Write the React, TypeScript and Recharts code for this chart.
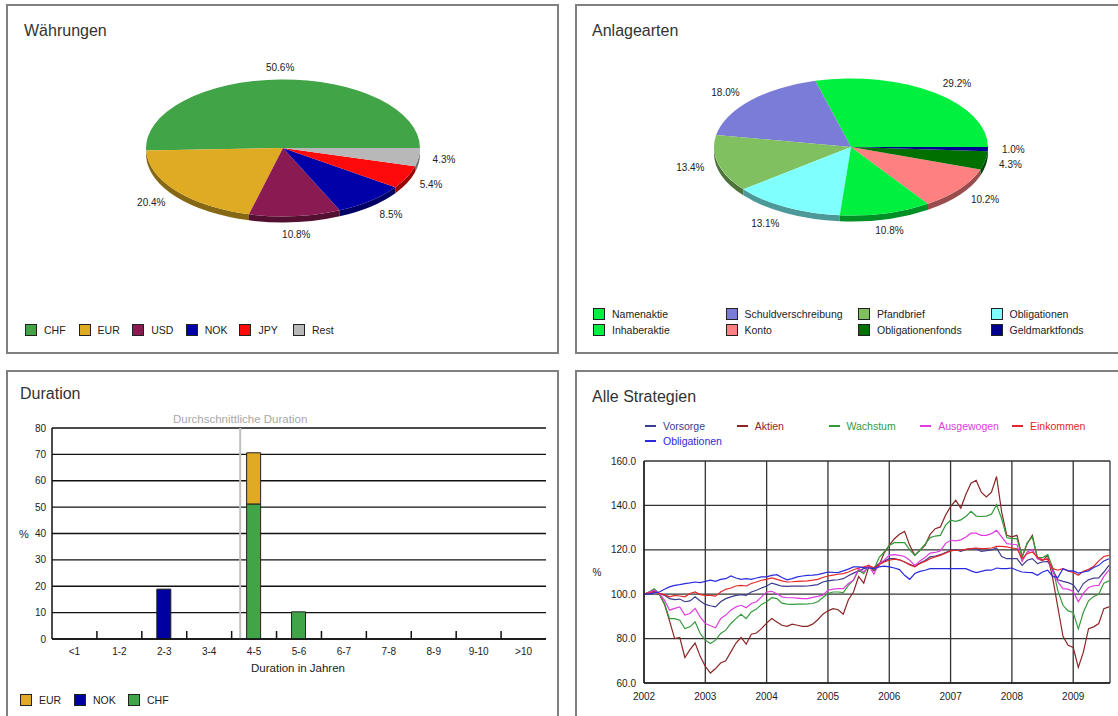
import { PieChart, Pie, BarChart, Bar, XAxis, YAxis, CartesianGrid, ReferenceLine, LineChart, Line } from 'recharts'

const FONT = '"Liberation Sans", Arial, Helvetica, sans-serif'

// Währungen
const currencyNames = ['CHF', 'EUR', 'USD', 'NOK', 'JPY', 'Rest']
const currencyShares = [50.6, 20.4, 10.8, 8.5, 5.4, 4.3]
const currencyColors = ['#41a447', '#dfab22', '#8a1a52', '#0000a8', '#ff0a0a', '#b8b8b8']

// Anlagearten (pie order, legend fills two rows of four)
const assetNames = ['Namenaktie', 'Schuldverschreibung', 'Pfandbrief', 'Obligationen', 'Inhaberaktie', 'Konto', 'Obligationenfonds', 'Geldmarktfonds']
const assetShares = [29.2, 18.0, 13.4, 13.1, 10.8, 10.2, 4.3, 1.0]
const assetColors = ['#00f040', '#7b7bd8', '#80c060', '#80ffff', '#00f040', '#ff8080', '#007000', '#000090']

// Duration
const durationBuckets = ['<1', '1-2', '2-3', '3-4', '4-5', '5-6', '6-7', '7-8', '8-9', '9-10', '>10']
const durationCHF = [0, 0, 0, 0, 51.2, 10.3, 0, 0, 0, 0, 0]
const durationEUR = [0, 0, 0, 0, 19.4, 0, 0, 0, 0, 0, 0]
const durationNOK = [0, 0, 18.9, 0, 0, 0, 0, 0, 0, 0, 0]
const durationTicks = [0, 10, 20, 30, 40, 50, 60, 70, 80]
const averageDuration = 4.19

// Alle Strategien, monthly from Jan 2002
const yearTicks = [2002, 2003, 2004, 2005, 2006, 2007, 2008, 2009]
const strategyTicks = [60, 80, 100, 120, 140, 160]
const vorsorge = [
  100, 100.6, 101.3, 100.3, 99.5, 98, 97.6, 97.8, 96.6, 97, 98.8, 96.9,
  95.4, 94.8, 94.3, 96.6, 98, 98.8, 99.5, 99.8, 99.5, 101, 101.8, 102.8,
  103.7, 105, 104.3, 103.6, 103.5, 103.6, 103.7, 103.6, 103.7, 104, 104.3, 105.5,
  106, 106.3, 106.5, 107, 108.3, 109.5, 110.5, 111.5, 112.3, 112, 113.8, 114.8,
  116, 116, 115.5, 114.5, 113.5, 112.6, 114, 115.2, 116.8, 117.2, 117.8, 118.8,
  119.6, 120, 119.3, 120.2, 120.4, 120.5, 119.3, 119.6, 120, 120.8, 117, 116,
  116, 116, 113, 115.3, 116, 113.8, 114.5, 114.8, 111, 106.5, 105.8, 105.2,
  104.3, 101, 104.8, 106.5, 107.2, 107.3, 110, 113,
]
const aktien = [
  100, 101, 102, 100, 95.5, 88, 80, 80.5, 71.5, 75, 78, 72,
  67.5, 64.5, 66.5, 69, 70, 74, 78, 80.5, 77.5, 82, 82.5, 84.5,
  87, 89, 87.5, 86, 85.5, 86.5, 86, 85.5, 85.5, 86.5, 88.5, 91,
  92.5, 93.5, 93, 91, 97.5, 101, 108, 105, 112.5, 110.5, 113, 118.5,
  122, 125, 127, 128.3, 122, 117.5, 119.8, 122, 127, 129.5, 130.3, 135.5,
  139.5, 142.3, 138.8, 145, 150, 151.3, 146, 143.8, 146, 153, 137, 126.5,
  125.8, 126.5, 116.8, 122.8, 126.5, 116, 115, 117.5, 107, 94, 81, 77,
  76, 67, 74, 84.5, 85.3, 86.8, 93.5, 94.3,
]
const wachstum = [
  100, 101, 102.5, 100.3, 95.8, 89, 89, 88.3, 84.5, 85.3, 87.6, 82.3,
  79.3, 77.8, 79.3, 82.3, 83.8, 86.8, 89, 90.9, 89, 92, 93.3, 95.4,
  96.6, 98.4, 98, 96, 95.5, 95.4, 95.5, 95.5, 95.6, 95.8, 96.6, 98.5,
  100.3, 101, 101, 100.7, 104, 106.3, 110.8, 109.3, 113, 111, 116.5, 119,
  122, 123.2, 123.2, 123.2, 120, 117.5, 119.8, 122.5, 125.5, 126.2, 126.5, 131,
  133.3, 132.8, 133.5, 135, 137.3, 135.2, 135, 135.2, 136, 140.3, 134, 125.5,
  125, 125, 116.8, 123.2, 125.8, 116.5, 116.5, 117.8, 112, 101.5, 95, 92.5,
  91.8, 84.3, 92, 97, 99, 100, 105, 106,
]
const ausgewogen = [
  100, 100.8, 101.8, 100.3, 97.3, 92.8, 93.6, 94.3, 90.6, 91.3, 93.6, 89.8,
  86.8, 85.8, 84.9, 89, 90.6, 92.8, 94.3, 95, 93.9, 95.8, 96.6, 98.8,
  101, 101.3, 100.2, 98.8, 98.4, 98.4, 98.2, 98, 98, 98.6, 99, 99.6,
  101.8, 102.3, 102.5, 102.5, 104.8, 106.3, 111.5, 110, 113, 109, 113.8, 115.3,
  117.5, 117.8, 117.5, 117, 115.3, 113, 115, 116.5, 118.5, 118.8, 119.5, 122.8,
  124.3, 124, 124.5, 125.8, 127.5, 127.5, 126.5, 126.5, 127.3, 128.8, 125.8, 122.8,
  122.5, 122.3, 114.8, 119, 120.1, 116, 115.5, 116, 110, 105.5, 102.5, 102.3,
  101.2, 96.6, 100.5, 103, 103.8, 104, 108, 111,
]
const einkommen = [
  100, 100.5, 101, 100.3, 99.8, 98.8, 99.5, 99.2, 98.8, 100.3, 101, 99.8,
  99.5, 99.5, 99.1, 101, 102.2, 102.8, 103.7, 104, 103.7, 104.8, 105.5, 106.3,
  106.7, 107.3, 106.7, 106, 105.5, 105.6, 105.8, 105.9, 106, 106.3, 106.7, 107.5,
  108.2, 108.6, 109, 109.3, 110, 111, 111.8, 112.3, 113, 111.8, 113.3, 114.5,
  115.3, 115.8, 115.5, 114.5, 113.2, 112.3, 113.8, 114.8, 116, 116.8, 117.5, 118.5,
  119.5, 119.8, 119.8, 120.2, 120.5, 120.8, 120.5, 120.6, 120.8, 121.5, 121.5, 121.3,
  120.8, 120.5, 116, 118.3, 119, 116.8, 115.5, 115.8, 111.5, 110.8, 111.5, 110.5,
  109.8, 108.5, 110.3, 111.2, 112.5, 115, 117, 117.5,
]
const obligationen = [
  100, 100, 100.6, 101, 102.2, 103.3, 104, 104.3, 104.8, 105.1, 105.5, 105.2,
  105.8, 106.3, 105.8, 106.7, 107, 108.2, 107.3, 106.7, 107, 106.7, 107.3, 107.8,
  107.8, 108.5, 108.8, 107.5, 106.5, 107, 107.8, 108.2, 108.5, 108.6, 108.8, 109.4,
  110, 109.8, 109.7, 110.5, 111.3, 112.3, 112.3, 112, 111.8, 111.5, 112.3, 112.6,
  112.3, 111.8, 111.1, 108.5, 106.7, 109.3, 110.3, 110.8, 111.5, 111.5, 111.5, 111.5,
  111.5, 111.5, 111.5, 111.5, 110.5, 109.7, 110.3, 110.8, 110.8, 111.8, 111.5, 111.5,
  111.8, 110.8, 110, 109.8, 109.7, 108.5, 110, 110.8, 108, 107.5, 111.5, 110.5,
  110.5, 109.5, 110, 110.5, 112, 113, 115, 116,
]

const strategies = [
  { key: 'vorsorge', name: 'Vorsorge', values: vorsorge, color: '#3c3c8e' },
  { key: 'aktien', name: 'Aktien', values: aktien, color: '#8b2626' },
  { key: 'wachstum', name: 'Wachstum', values: wachstum, color: '#339a3a' },
  { key: 'ausgewogen', name: 'Ausgewogen', values: ausgewogen, color: '#e03ce0' },
  { key: 'einkommen', name: 'Einkommen', values: einkommen, color: '#e52626' },
  { key: 'obligationen', name: 'Obligationen', values: obligationen, color: '#2a2ae0' },
]

const strategyRows = vorsorge.map((_, i) => {
  const row: Record<string, number> = { t: 2002 + i / 12 }
  strategies.forEach((s) => { row[s.key] = s.values[i] })
  return row
})

// upper = upper bound of the bucket in years, feeds the numeric duration axis
const durationRows = durationBuckets.map((bucket, i) => ({
  bucket,
  upper: i + 1,
  CHF: durationCHF[i],
  EUR: durationEUR[i],
  NOK: durationNOK[i],
}))

// pies are drawn as flattened ovals with a darker rim in front
const SQUASH = 0.5
const DEPTH = 6
const RAD = Math.PI / 180

function shade(hex: string, f: number) {
  const n = parseInt(hex.slice(1), 16)
  const r = Math.round(((n >> 16) & 255) * f)
  const g = Math.round(((n >> 8) & 255) * f)
  const b = Math.round((n & 255) * f)
  return `rgb(${r},${g},${b})`
}

function ovalSlice(colors: string[]) {
  return (p: any) => {
    const { cx, cy, startAngle, endAngle, outerRadius, index, value } = p
    const rx = outerRadius
    const ry = outerRadius * SQUASH
    const at = (a: number, dy = 0) =>
      `${cx + rx * Math.cos(a * RAD)},${cy - ry * Math.sin(a * RAD) + dy}`
    const span = endAngle - startAngle
    const top = `M${cx},${cy} L${at(startAngle)} A${rx},${ry} 0 ${span > 180 ? 1 : 0} 0 ${at(endAngle)} Z`
    const a1 = Math.max(startAngle, 180)
    const a2 = Math.min(endAngle, 360)
    const side = a2 > a1
      ? `M${at(a1)} A${rx},${ry} 0 0 0 ${at(a2)} L${at(a2, DEPTH)} A${rx},${ry} 0 0 1 ${at(a1, DEPTH)} Z`
      : null
    const mid = (startAngle + endAngle) / 2
    const c = Math.cos(mid * RAD)
    const s = Math.sin(mid * RAD)
    const lx = cx + (rx + 14) * c
    const ly = cy - (ry + 12) * s + DEPTH * Math.max(0, -s)
    const anchor = c > 0.3 ? 'start' : c < -0.3 ? 'end' : 'middle'
    return (
      <g key={`slice-${index}`}>
        {side && <path d={side} fill={shade(colors[index], 0.6)} stroke="none" />}
        <path d={top} fill={colors[index]} stroke="none" />
        <text x={lx} y={ly} textAnchor={anchor} dominantBaseline="central" fontSize={10} fill="#222" fontFamily={FONT}>
          {`${value.toFixed(1)}%`}
        </text>
      </g>
    )
  }
}

function OvalPie({ names, shares, colors, cx, cy }: { names: string[]; shares: number[]; colors: string[]; cx: number; cy: number }) {
  const data = names.map((name, i) => ({ name, value: shares[i] }))
  return (
    <PieChart width={550} height={250} margin={{ top: 0, right: 0, bottom: 0, left: 0 }}>
      <Pie
        data={data}
        dataKey="value"
        cx={cx}
        cy={cy}
        outerRadius={137}
        startAngle={0}
        endAngle={360}
        fill="none"
        stroke="none"
        labelLine={false}
        label={ovalSlice(colors)}
        isAnimationActive={false}
      />
    </PieChart>
  )
}

function Panel({ left, top, width, height }: { left: number; top: number; width: number; height: number }) {
  return (
    <div style={{ position: 'absolute', left, top, width, height, boxSizing: 'border-box', border: '2px solid #808080' }} />
  )
}

function Title({ left, top, children }: { left: number; top: number; children: string }) {
  return (
    <div style={{ position: 'absolute', left, top, fontSize: 16, lineHeight: '16px', color: '#333' }}>{children}</div>
  )
}

function Centered({ x, y, size, children }: { x: number; y: number; size: number; children: string }) {
  return (
    <div style={{ position: 'absolute', left: x, top: y, transform: 'translate(-50%, -50%)', fontSize: size, color: '#222', whiteSpace: 'nowrap' }}>
      {children}
    </div>
  )
}

function Swatch({ color }: { color: string }) {
  return <span style={{ display: 'inline-block', width: 10, height: 10, background: color, border: '1px solid #222', flex: 'none' }} />
}

function BoxLegend({ left, top, itemWidth, names, colors }: { left: number; top: number; itemWidth: number; names: string[]; colors: string[] }) {
  return (
    <div style={{ position: 'absolute', left, top, display: 'flex', fontSize: 10.5, color: '#222' }}>
      {names.map((n, i) => (
        <div key={n} style={{ width: itemWidth, display: 'flex', alignItems: 'center', gap: 7, height: 14 }}>
          <Swatch color={colors[i]} />
          <span>{n}</span>
        </div>
      ))}
    </div>
  )
}

const BAR_W = 559
const BAR_H = 345
const BAR_MARGIN = { top: 57, right: 13, bottom: 47, left: 22 }
const BAR_YAXIS = 30
const BAND = (BAR_W - BAR_MARGIN.left - BAR_MARGIN.right - BAR_YAXIS) / durationBuckets.length

function DurationTick(props: any) {
  const { x, y, payload, index } = props
  const bx = x - BAND / 2
  return (
    <g>
      {index > 0 && <line x1={bx} x2={bx} y1={y} y2={y - 8} stroke="#111" strokeWidth={1.5} />}
      <text x={x} y={y + 12} textAnchor="middle" dominantBaseline="central" fontSize={10} fill="#222" fontFamily={FONT}>
        {payload.value}
      </text>
    </g>
  )
}

export default function App() {
  const tick = { fontSize: 10, fill: '#222', fontFamily: FONT }
  return (
    <div style={{ position: 'absolute', left: 0, top: 0, width: 1118, height: 716, overflow: 'hidden', background: '#fff', fontFamily: FONT }}>
      <Panel left={6} top={4} width={553} height={350} />
      <Panel left={575} top={4} width={560} height={350} />
      <Panel left={6} top={370} width={553} height={360} />
      <Panel left={575} top={370} width={560} height={360} />

      {/* Währungen */}
      <Title left={24} top={23}>Währungen</Title>
      <div style={{ position: 'absolute', left: 8, top: 6 }}>
        <OvalPie names={currencyNames} shares={currencyShares} colors={currencyColors} cx={275} cy={142} />
      </div>
      <BoxLegend left={25} top={323} itemWidth={53.6} names={currencyNames} colors={currencyColors} />

      {/* Anlagearten */}
      <Title left={592} top={23}>Anlagearten</Title>
      <div style={{ position: 'absolute', left: 577, top: 6 }}>
        <OvalPie names={assetNames} shares={assetShares} colors={assetColors} cx={274} cy={141} />
      </div>
      <BoxLegend left={593} top={307} itemWidth={132.5} names={assetNames.slice(0, 4)} colors={assetColors.slice(0, 4)} />
      <BoxLegend left={593} top={323} itemWidth={132.5} names={assetNames.slice(4)} colors={assetColors.slice(4)} />

      {/* Duration */}
      <Title left={20} top={386}>Duration</Title>
      <div style={{ position: 'absolute', left: 0, top: 371 }}>
        <BarChart width={BAR_W} height={BAR_H} data={durationRows} margin={BAR_MARGIN} barSize={14}>
          <CartesianGrid vertical={false} stroke="#111" strokeWidth={1.3} />
          <XAxis dataKey="bucket" interval={0} tickLine={false} tickSize={0} tickMargin={0} height={30} axisLine={{ stroke: '#111', strokeWidth: 1.5 }} tick={<DurationTick />} />
          <XAxis xAxisId="avg" dataKey="upper" type="number" domain={[0, durationBuckets.length]} allowDataOverflow hide />
          <YAxis domain={[0, 80]} ticks={durationTicks} width={BAR_YAXIS} tickLine={false} tickSize={4} axisLine={{ stroke: '#111', strokeWidth: 1.5 }} tick={tick} />
          <YAxis yAxisId="frame" orientation="right" domain={[0, 80]} width={0} tick={false} tickLine={false} axisLine={{ stroke: '#111', strokeWidth: 1.5 }} />
          <ReferenceLine
            xAxisId="avg"
            x={averageDuration}
            stroke="#c0c0c0"
            strokeWidth={2}
            label={{ value: 'Durchschnittliche Duration', position: 'top', fill: '#a8a8a8', fontSize: 11.5, fontFamily: FONT }}
          />
          <Bar dataKey="CHF" stackId="d" fill="#41a447" stroke="#222" strokeWidth={1} isAnimationActive={false} />
          <Bar dataKey="EUR" stackId="d" fill="#dfab22" stroke="#222" strokeWidth={1} isAnimationActive={false} />
          <Bar dataKey="NOK" stackId="d" fill="#0000a0" stroke="#222" strokeWidth={1} isAnimationActive={false} />
        </BarChart>
      </div>
      <Centered x={24} y={534} size={11}>%</Centered>
      <Centered x={298} y={668} size={11.5}>Duration in Jahren</Centered>
      <BoxLegend left={20} top={693} itemWidth={54} names={['EUR', 'NOK', 'CHF']} colors={['#dfab22', '#0000a0', '#41a447']} />

      {/* Alle Strategien */}
      <Title left={592} top={389}>Alle Strategien</Title>
      {[strategies.slice(0, 5), strategies.slice(5)].map((row, r) => (
        <div key={r} style={{ position: 'absolute', left: 645, top: 419 + r * 15, display: 'flex', fontSize: 10.5 }}>
          {row.map((s) => (
            <div key={s.key} style={{ width: 91.75, display: 'flex', alignItems: 'center', gap: 7, height: 14, color: s.color }}>
              <span style={{ display: 'inline-block', width: 11, height: 1.5, background: s.color }} />
              <span>{s.name}</span>
            </div>
          ))}
        </div>
      ))}
      <div style={{ position: 'absolute', left: 575, top: 371 }}>
        <LineChart width={543} height={345} data={strategyRows} margin={{ top: 90, right: 8, bottom: 11, left: 19 }}>
          <CartesianGrid stroke="#333" strokeWidth={1.3} />
          <XAxis dataKey="t" type="number" domain={[2002, 2009.6]} ticks={yearTicks} height={22} tickLine={false} tickMargin={4} axisLine={{ stroke: '#222', strokeWidth: 1.5 }} tick={tick} />
          <YAxis domain={[60, 160]} ticks={strategyTicks} tickFormatter={(v: number) => v.toFixed(1)} width={50} tickLine={false} axisLine={{ stroke: '#222', strokeWidth: 1.5 }} tick={tick} />
          <YAxis yAxisId="frame" orientation="right" domain={[60, 160]} width={0} tick={false} tickLine={false} axisLine={{ stroke: '#222', strokeWidth: 1.5 }} />
          {strategies.map((s) => (
            <Line key={s.key} type="linear" dataKey={s.key} stroke={s.color} strokeWidth={1.2} dot={false} isAnimationActive={false} />
          ))}
        </LineChart>
      </div>
      <Centered x={597} y={572} size={10}>%</Centered>
    </div>
  )
}
